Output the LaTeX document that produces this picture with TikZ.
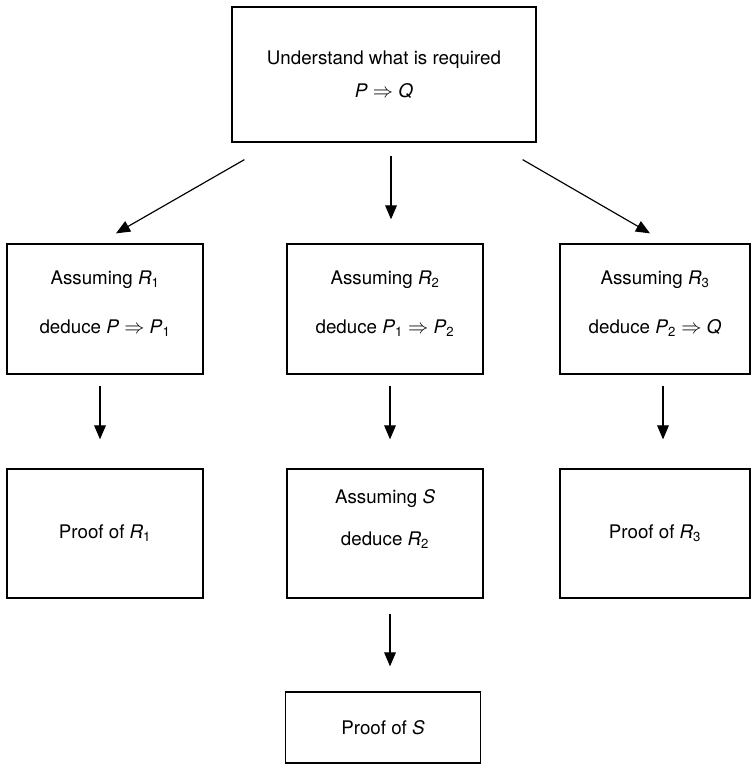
\documentclass[tikz,border=0pt]{standalone}
\usepackage{amsmath, amssymb}
\usepackage{xcolor}
\usepackage{fontspec}
\setmainfont{TeX Gyre Heros}
\usepackage{tikz}
\usetikzlibrary{arrows.meta, calc}

\newcommand{\mv}[1]{\textit{#1}}
\newcommand{\low}[1]{\textsubscript{#1}}

\begin{document}
\begin{tikzpicture}[x=0.03cm, y=-0.03cm,
    box/.style={draw, line width=1.1pt, align=center, inner sep=0pt,
        font=\fontsize{16}{19}\selectfont},
    arr/.style={-{Triangle[length=12pt, width=10pt]}, line width=1pt}]
        \useasboundingbox (0,0) rectangle (751,764);

        % Define the nodes
        \node[box, minimum width=9.12cm, minimum height=4.05cm] (goal) at (384,74.5)
            {Understand what is required\\[9pt]\mv{P} $\Rightarrow$ \mv{Q}};
        \node[box, minimum width=5.88cm, minimum height=3.9cm, text depth=12pt] (r1) at (105,309)
            {Assuming \mv{R}\low{1}\\[23pt]deduce \mv{P} $\Rightarrow$ \mv{P}\low{1}};
        \node[box, minimum width=5.88cm, minimum height=3.9cm, text depth=12pt] (r2) at (385,309)
            {Assuming \mv{R}\low{2}\\[23pt]deduce \mv{P}\low{1} $\Rightarrow$ \mv{P}\low{2}};
        \node[box, minimum width=5.7cm, minimum height=3.9cm, text depth=12pt] (r3) at (655,309)
            {Assuming \mv{R}\low{3}\\[23pt]deduce \mv{P}\low{2} $\Rightarrow$ \mv{Q}};
        \node[box, minimum width=5.88cm, minimum height=3.87cm] (pr1) at (105,533.5)
            {Proof of \mv{R}\low{1}};
        \node[box, minimum width=5.88cm, minimum height=3.87cm, text depth=28pt] (as) at (385,533.5)
            {Assuming \mv{S}\\[17pt]deduce \mv{R}\low{2}};
        \node[box, minimum width=5.7cm, minimum height=3.87cm] (pr3) at (655,533.5)
            {Proof of \mv{R}\low{3}};
        \node[box, minimum width=5.85cm, minimum height=2.13cm] (prs) at (383,727.5)
            {Proof of \mv{S}};

        % Draw the arrows
        \draw[arr] ($(goal.south west)+(13,17)$) -- ($(r1.north)+(11,-10)$);
        \draw[arr] ($(goal.south)+(7,13)$) -- ($(r2.north)+(6,-24)$);
        \draw[arr] ($(goal.south east)+(-14,17)$) -- ($(r3.north)+(-5,-10)$);
        \draw[arr] ($(r1.south)+(-5,11)$) -- ($(pr1.north)+(-5,-29)$);
        \draw[arr] ($(r2.south)+(5,11)$) -- ($(as.north)+(5,-29)$);
        \draw[arr] ($(r3.south)+(8,11)$) -- ($(pr3.north)+(8,-29)$);
        \draw[arr] ($(as.south)+(5,15)$) -- ($(prs.north)+(7,-25)$);
\end{tikzpicture}
\end{document}
